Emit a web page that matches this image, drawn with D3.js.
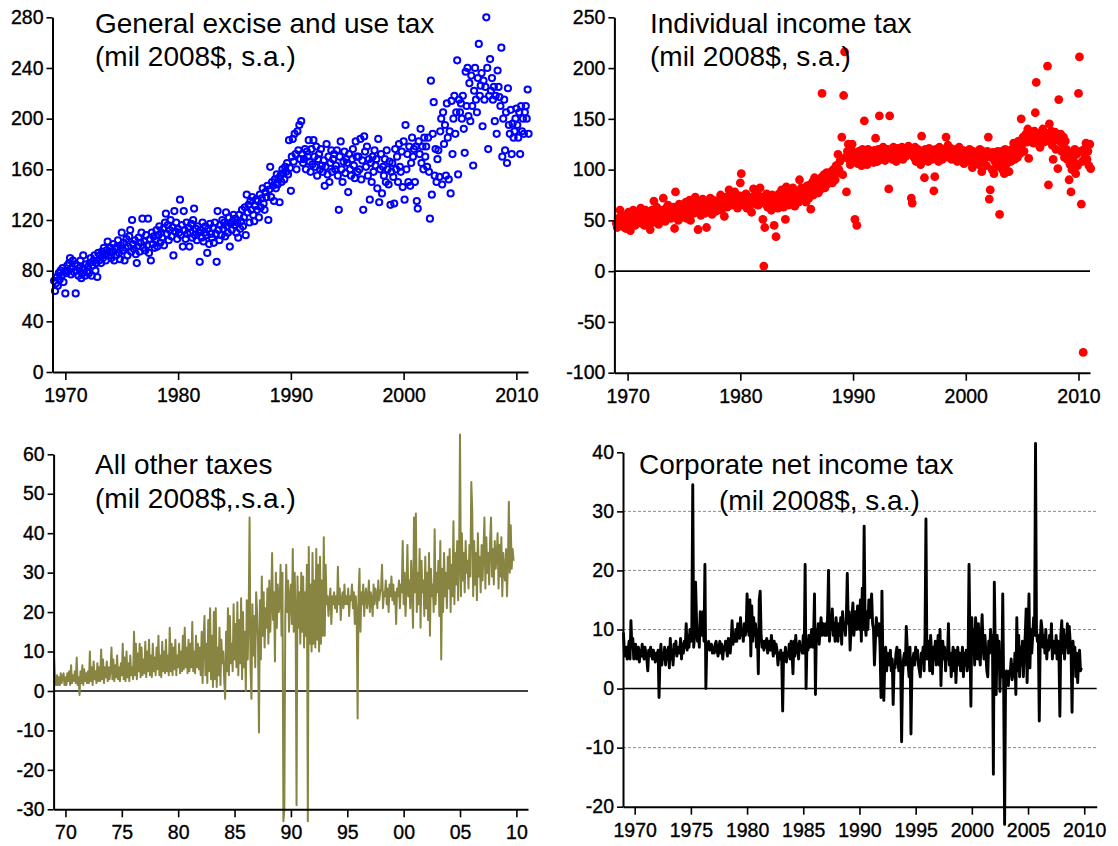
<!DOCTYPE html>
<html>
<head>
<meta charset="utf-8">
<script src="https://cdn.jsdelivr.net/npm/d3@7"></script>
<style>
  html, body { margin: 0; padding: 0; background: #fff; }
  svg { display: block; font-family: "Liberation Sans", Arial, Helvetica, sans-serif; }
</style>
</head>
<body>
<svg id="chart" width="1118" height="846"></svg>
<script>
// Monthly series, first observation January 1969.
const startYear = 1969;

// General excise and use tax (mil 2008$, s.a.), one row per year
const excise = [
  72, 64, 70, 75, 68, 78, 73, 80, 76, 82, 71, 79,
  62, 78, 84, 80, 86, 90, 77, 82, 88, 79, 85, 62,
  80, 84, 76, 82, 88, 74, 78, 92, 81, 76, 85, 79,
  83, 78, 86, 90, 76, 84, 88, 92, 80, 86, 75, 94,
  88, 92, 86, 95, 90, 98, 93, 88, 96, 103, 92, 95,
  98, 90, 95, 101, 88, 97, 92, 99, 104, 94, 89, 100,
  110, 96, 102, 88, 98, 105, 92, 99, 107, 112, 95, 120,
  101, 97, 104, 93, 86, 99, 106, 95, 102, 110, 121, 98,
  103, 96, 108, 100, 121, 94, 105, 88, 110, 101, 107, 98,
  104, 112, 99, 108, 115, 102, 110, 106, 113, 100, 118, 125,
  109, 116, 104, 112, 120, 107, 114, 92, 127, 111, 118, 105,
  113, 110, 136, 108, 116, 99, 127, 112, 105, 118, 109, 114,
  99, 110, 117, 106, 120, 129, 108, 113, 104, 115, 110, 87,
  112, 106, 118, 103, 110, 115, 108, 94, 113, 101, 117, 109,
  106, 114, 102, 118, 109, 87, 127, 112, 104, 116, 108, 120,
  113, 118, 107, 126, 115, 110, 122, 99, 117, 112, 119, 124,
  116, 121, 110, 118, 106, 124, 113, 119, 128, 115, 122, 130,
  108, 140, 126, 132, 118, 135, 128, 138, 124, 119, 131, 136,
  128, 135, 122, 140, 130, 137, 145, 133, 128, 142, 138, 147,
  120, 144, 162, 138, 150, 147, 135, 152, 145, 156, 148, 153,
  134, 155, 150, 160, 157, 152, 162, 158, 165, 156, 183, 161,
  143, 170, 184, 166, 188, 172, 160, 190, 175, 195, 168, 198,
  172, 165, 168, 176, 160, 174, 170, 183, 166, 158, 176, 164,
  183, 170, 162, 178, 155, 168, 172, 160, 176, 163, 158, 167,
  147, 162, 180, 156, 170, 150, 165, 175, 158, 168, 172, 160,
  163, 175, 155, 128, 170, 182, 160, 150, 166, 174, 157, 168,
  165, 142, 172, 160, 155, 168, 176, 163, 153, 182, 170, 158,
  170, 160, 184, 152, 167, 128, 186, 174, 162, 178, 155, 168,
  136, 165, 150, 170, 158, 175, 163, 168, 145, 184, 134, 160,
  172, 141, 162, 155, 168, 150, 175, 160, 148, 166, 132, 158,
  165, 154, 133, 176, 160, 170, 150, 180, 162, 158, 174, 146,
  182, 136, 195, 160, 172, 150, 178, 147, 165, 185, 170, 176,
  150, 178, 135, 129, 182, 172, 192, 165, 178, 160, 185, 170,
  178, 162, 185, 158, 121, 230, 140, 188, 213, 155, 176, 150,
  168, 175, 154, 190, 200, 148, 205, 180, 195, 155, 212, 185,
  152, 190, 141, 214, 172, 200, 218, 188, 205, 246, 156, 215,
  205, 212, 200, 218, 192, 173, 237, 210, 240, 202, 228, 198,
  234, 210, 163, 222, 240, 215, 205, 232, 259, 218, 226, 236,
  194, 230, 215, 225, 280, 240, 176, 218, 247, 222, 232, 215,
  225, 198, 218, 188, 238, 225, 217, 210, 256, 170, 200, 215,
  175, 205, 165, 224, 195, 188, 207, 172, 196, 185, 190, 200,
  208, 195, 185, 205, 172, 210, 190, 200, 188, 205, 210, 200,
  223, 188
];

// Individual income tax (mil 2008$, s.a.)
const individual = [
  47, 43, 52, 48, 60, 45, 50, 44, 55, 49, 42, 53,
  46, 58, 50, 40, 54, 47, 60, 52, 45, 49, 56, 48,
  55, 50, 62, 47, 58, 52, 45, 60, 53, 49, 57, 51,
  41, 55, 60, 48, 69, 52, 57, 63, 50, 46, 58, 54,
  60, 53, 72, 56, 49, 62, 58, 65, 55, 61, 52, 59,
  57, 63, 42, 78, 55, 60, 50, 66, 58, 62, 53, 65,
  60, 55, 68, 52, 63, 58, 70, 50, 61, 66, 57, 64,
  73, 62, 58, 41, 65, 69, 55, 60, 71, 63, 57, 66,
  43, 62, 68, 58, 72, 64, 56, 70, 61, 66, 59, 68,
  65, 70, 62, 75, 60, 68, 72, 54, 66, 73, 63, 70,
  80, 68, 72, 65, 75, 70, 78, 66, 73, 62, 70, 74,
  87, 96, 68, 74, 65, 71, 76, 62, 70, 73, 66, 72,
  58, 69, 81, 74, 66, 72, 78, 65, 70, 82, 67, 73,
  51, 5, 43, 70, 76, 63, 69, 72, 65, 60, 75, 68,
  45, 73, 34, 68, 62, 76, 70, 65, 80, 72, 63, 78,
  51, 83, 70, 65, 78, 72, 68, 75, 82, 70, 64, 76,
  72, 78, 68, 90, 75, 82, 70, 77, 73, 80, 68, 84,
  78, 72, 85, 61, 80, 88, 75, 92, 79, 84, 90, 77,
  85, 80, 92, 175, 88, 95, 82, 90, 97, 86, 93, 88,
  92, 98, 87, 100, 95, 90, 104, 97, 115, 100, 108, 110,
  132, 95, 173, 216, 112, 78, 118, 125, 110, 105, 120, 125,
  115, 108, 51, 112, 45, 106, 118, 110, 114, 104, 120, 112,
  148, 110, 115, 105, 120, 113, 108, 118, 112, 116, 107, 119,
  131, 115, 108, 120, 153, 112, 117, 110, 122, 114, 109, 118,
  116, 120, 81, 153, 112, 118, 110, 122, 115, 119, 108, 121,
  118, 112, 120, 115, 122, 110, 117, 121, 113, 119, 116, 123,
  120, 115, 72, 67, 118, 112, 122, 108, 116, 120, 110, 117,
  105, 133, 118, 112, 92, 120, 110, 115, 108, 121, 113, 117,
  110, 115, 79, 93, 120, 112, 118, 108, 122, 114, 117, 110,
  116, 120, 113, 132, 118, 124, 112, 117, 121, 110, 119, 114,
  118, 112, 120, 108, 116, 122, 110, 117, 113, 119, 106, 115,
  112, 118, 108, 116, 120, 110, 115, 102, 118, 113, 107, 116,
  110, 117, 105, 120, 113, 98, 118, 108, 115, 112, 104, 118,
  132, 71, 80, 112, 100, 117, 96, 108, 113, 103, 118, 110,
  56, 108, 118, 100, 112, 96, 120, 105, 115, 110, 98, 113,
  108, 120, 115, 126, 110, 118, 124, 112, 128, 120, 116, 150,
  125, 132, 118, 130, 135, 127, 140, 111, 133, 128, 137, 130,
  126, 138, 156, 186, 130, 135, 128, 122, 136, 132, 140, 127,
  132, 128, 136, 202, 85, 145, 130, 138, 124, 110, 132, 137,
  120, 130, 101, 169, 128, 135, 118, 125, 132, 112, 128, 120,
  110, 118, 90, 105, 78, 100, 113, 108, 120, 96, 115, 104,
  175, 211, 118, 66, 108, -80, 120, 112, 126, 110, 118, 104,
  125, 101
];

// All other taxes (mil 2008$, s.a.)
const otherTaxes = [
  8, 2, 1.5, 4, 1.5, 3.5, 1.5, 4.5, 2, 3.5, 4.5, 1.5,
  3.5, 1.5, 4.5, 2.5, 5, 1.5, 6.5, 2, 4, 2.5, 5, 2,
  8.5, 1.5, 3.5, -1, 5, 2, 6.5, 1.5, 5.5, 2.5, 4.5, 2,
  5, 2, 10, 2.5, 6, 1.5, 7.5, 3, 5, 2, 7, 2.5,
  6, 2.5, 10.5, 3, 8, 2, 6, 3.5, 7.5, 2.5, 6, 3,
  5.5, 11, 3, 8, 2.5, 6.5, 3.5, 9, 3, 6, 2.5, 7,
  4, 12, 3, 8.5, 2.5, 10, 3.5, 7, 2.5, 9, 4, 6,
  3, 15, 4, 12, 3, 9.5, 5, 12, 3.5, 11, 4, 8,
  4.5, 12.5, 3.5, 10, 5, 13, 4, 9, 3.5, 12, 5, 8.5,
  4, 11, 5.5, 14, 4, 9, 3.5, 12.5, 5, 10, 4.5, 13,
  5, 9, 4, 16, 5, 12, 4, 11, 5.5, 13, 4, 9,
  6, 12, 4.5, 10, 5, 14, 5.5, 16, 6, 11, 4.5, 13,
  5, 12, 6, 17.5, 5, 10, 4.5, 14, 6, 12, 5.5, 11,
  4, 15, 2, 13, 19, 4, 12, 2, 18, 5, 21, 3,
  14, 1, 20, 3, 21, 1, 11, 4, 16, 1.5, 13, 7,
  10, 3, -2, 15, 5, 21, 4, 19, 7, 12, 5, 22,
  8, 17, 6, 22.5, 4, 18, 7, 23.5, 3, 20, 6, 15,
  0, 23, 8, 18, 44, 6, -2, 22, 9, 19, 6, 25,
  20, 12, -10.5, 23, 8, 29, 14, 25, 11, 21, 16, 26,
  12, 28, 15, 22, 35, 18, 25, 7.5, 30, 16, 27, 20,
  22, 32, 14, 30, -33, -30, 18, 32, 20, 28, 15, 24,
  27, 17, 36, 15, 30, 20, -29, 29, 16, 25, 12, 30,
  15, 29, 11, 25, 14, 32, -33, 36.5, 12, 27, 10, 35,
  12, 28, 11, 36, 13, 32, 10, 34, 12, 28, 14, 39,
  14, 32, 22, 24, 19, 23, 26, 17, 24, 22, 25, 21,
  24, 20, 31.5, 22, 26, 18, 23, 25, 21, 27, 22, 24,
  22, 26, 19, 24, 23, 27, 21, 25, 17, 24, 20, -7,
  24, 31, 15, 25, 22, 27, 19, 24, 26, 21, 23, 28,
  20, 25, 23, 19, 27, 22, 26, 24, 21, 28, 23, 25,
  26, 32, 21, 25, 24, 28, 22, 26, 20, 27, 24, 29,
  23, 27, 22, 25, 17, 26, 24, 28, 21, 27, 25, 38,
  22, 30, 19, 26, 37, 24, 28, 21, 33, 25, 16, 44,
  25, 45, 20, 30, 22, 36, 16, 33, 25, 28, 19, 34,
  21, 30, 18, 35, 14, 31, 24, 27, 20, 41, 22, 30,
  25, 33, 19, 38, 8, 31, 20, 35, 24, 30, 21, 34,
  26, 36, 20, 32, 24, 43, 22, 35, 27, 38, 23, 33,
  65, 24, 40, 28, 35, 25, 38, 30, 33, 26, 37, 29,
  53, 46, 24, 38, 27, 35, 23, 40, 29, 34, 25, 37,
  28, 36, 44, 26, 39, 30, 35, 27, 38, 44, 29, 36,
  27, 38, 31, 34, 40, 26, 37, 29, 39, 24, 35, 30,
  28, 36, 24, 33, 48, 30, 42, 31, 36, 33
];

// Corporate net income tax (mil 2008$, s.a.)
const corporate = [
  9.5, 6, 5.5, 7, 5, 6.5, 8, 5, 11.5, 7, 8.5, 5,
  6.5, 7.5, 5, 6, 7, 4.5, 6.5, 5.5, 7.5, 6, 5, 7,
  6, 5, 3, 6.5, 5.5, 7, 6, 5, 6.5, 5.5, 4.5, 6,
  5.5, 6.5, -1.5, 5, 7.5, 4, 6, 5, 7, 4, 6.5, 5,
  7, 3.5, 8.5, 5, 6.5, 4, 7.5, 6, 8, 5.5, 6.5, 7,
  6, 8.5, 5, 7.5, 6, 8, 7, 11, 6.5, 9, 7, 10,
  8, 10, 34.5, 7, 9, 18, 12, 8, 10, 7, 13, 11,
  9, 13, 8, 21, 0, 7.5, 7, 8, 6.5, 7, 7.5, 6,
  7, 6, 7.5, 8, 6.5, 5.5, 7, 8, 6, 7.5, 5, 7,
  6.5, 8, 7, 5.5, 8.5, 7, 6, 8, 11.5, 7.5, 9, 8,
  10, 8, 11, 9, 8.5, 12, 9, 10, 8, 11, 9, 10,
  16, 12, 9, 15, 5.5, 14, 8, 12, 9, 11, 7, 10,
  2.5, 15, 16.5, 9, 7, 8, 6.5, 8, 7, 8.5, 6, 7,
  8, 6.5, 9, 7, 5.5, 8, 6, 7.5, 6.5, 4, 6, 5,
  6.5, 5, -3.8, 6, 5, 7, 4.5, 6, 5.5, 7.5, 5, 8,
  6, 2.5, 8, 5.5, 9, 6, 7.5, 5, 8, 6.5, 7, 6,
  9, 6, 21, 0, 8, 6.5, 9, 7, 8.5, 10, 7, 8.5,
  16, -1, 10, 8, 11, 7.5, 10, 12, 9, 11, 10, 9,
  11, 9, 12, 20, 8, 12, 10, 13.5, 9, 11, 8, 12,
  10, 8, 11, 9, 12, 7.5, 13, 10, 11, 9, 12, 19.5,
  11, 13, 6.5, 10, 12, 14.5, 9, 11, 13, 10, 14, 12,
  10, 15, 8, 17, 10, 27.5, 11, 9, 13, 10, 15, 12,
  14, 16, 11, 10, 4, 8, 12, 10, 9, 11, 7, -1.5,
  16.5, 5, -2, 4, 7, 3, 6, 5, 4, 6.5, 3, 5,
  -2.7, 4, 3.5, 6, 7, 5, 3, 6.5, 4, -9, 2, 5,
  6, 4, 10.5, 7, 4, 2, 7, -7.7, 3, 5, 6, 4,
  7, 5, 6.5, 4, 3, 2, 6, 5, 7, 3, 9, 28.7,
  5, 6, 8, 3, 9, 6, 2.5, 7, 5, 8, 4, 6,
  9, 4, 10, 0.5, 6, 8, 5, 7, 3, 6.5, 5, 11,
  4, 6, 2, 5, 7, 3, 6.5, 1, 5, 7, 4, 6,
  3, 5, 7, 2, 6, 4, 6.5, 3, 5, 21, 8, -3,
  12, 6, 10, 4, 12, 8, 5, 11, 6, 4, 9, 12.5,
  7, 5, 9, 6, 3, 2, 8, 6, 10, 7, 9, -14.5,
  18, 7, -1, 9, 4, 8, -0.5, 6, 2, 16, 0, -23,
  1, 3, 2, 0.5, 3, 2.5, 5, 1.5, 4, 2, 6, -1,
  12, 3, 9, 2, 7, 4, 8, 2, 6, 9, 13.5, 1,
  8, 16, 3.5, 10, 6, 9, 12, 9, 41.5, 10, 8, 9,
  -5.5, 8, 11.5, 10, 7, 9, 6, 10, 5, 8, 6.5, 9,
  7, 11, 5, 8, 7, 6, 9, 5, 8, 6, -4.7, 9,
  11.5, 6, 10, 5, 9, 7, 11, 6, 10.5, 8, 6, -4,
  8, 5, 7, 2, 6, 1, 5, 6.5, 3, 3.5
];

// Axis ticks
const yearTicks10 = [1970, 1980, 1990, 2000, 2010];
const yearTicks5 = [1970, 1975, 1980, 1985, 1990, 1995, 2000, 2005, 2010];
const exciseTicks = [0, 40, 80, 120, 160, 200, 240, 280];
const individualTicks = [-100, -50, 0, 50, 100, 150, 200, 250];
const otherTicks = [-30, -20, -10, 0, 10, 20, 30, 40, 50, 60];
const corporateTicks = [-20, -10, 0, 10, 20, 30, 40];
const corporateGrid = [-10, 10, 20, 30];

const svg = d3.select("#chart");
const toPoints = arr => arr.map((v, i) => ({ t: startYear + i / 12, v }));

function drawPanel(cfg) {
  const x = d3.scaleLinear().domain(cfg.xDomain).range(cfg.xRange);
  const y = d3.scaleLinear().domain(cfg.yDomain).range(cfg.yRange);
  const g = svg.append("g");
  const [x0, x1] = cfg.xRange;

  // dashed reference lines
  if (cfg.grid) {
    g.selectAll("line.grid").data(cfg.grid).join("line")
      .attr("class", "grid")
      .attr("x1", x0).attr("x2", x1)
      .attr("y1", d => y(d)).attr("y2", d => y(d))
      .attr("stroke", "#8c8c8c").attr("stroke-width", 1)
      .attr("stroke-dasharray", "3,2");
  }
  // zero line
  if (cfg.zeroLine) {
    g.append("line")
      .attr("x1", x0).attr("x2", x1)
      .attr("y1", y(0)).attr("y2", y(0))
      .attr("stroke", "#000").attr("stroke-width", 1.6);
  }

  const pts = toPoints(cfg.data);
  if (cfg.kind === "ring") {
    g.append("g").selectAll("circle").data(pts).join("circle")
      .attr("cx", d => x(d.t)).attr("cy", d => y(d.v)).attr("r", 3.1)
      .attr("fill", "none").attr("stroke", cfg.color).attr("stroke-width", 2);
  } else if (cfg.kind === "dot") {
    g.append("g").selectAll("circle").data(pts).join("circle")
      .attr("cx", d => x(d.t)).attr("cy", d => y(d.v)).attr("r", 4.4)
      .attr("fill", cfg.color);
  } else {
    g.append("path").datum(pts)
      .attr("d", d3.line().x(d => x(d.t)).y(d => y(d.v)))
      .attr("fill", "none").attr("stroke", cfg.color)
      .attr("stroke-width", cfg.lineWidth).attr("stroke-linejoin", "round");
  }

  // axes
  const yAxis = d3.axisLeft(y).tickValues(cfg.yTicks).tickSize(6).tickSizeOuter(0)
    .tickPadding(3).tickFormat(d => String(d));
  const xAxis = d3.axisBottom(x).tickValues(cfg.xTicks).tickSize(8).tickSizeOuter(0)
    .tickPadding(8).tickFormat(cfg.xFormat);

  const ya = g.append("g").attr("transform", `translate(${x0},0)`).call(yAxis);
  const xa = g.append("g").attr("transform", `translate(0,${cfg.yRange[0]})`).call(xAxis);
  [ya, xa].forEach(a => {
    a.attr("font-family", null).attr("font-size", null);
    a.select(".domain").attr("stroke", "#000").attr("stroke-width", 2);
    a.selectAll(".tick line").attr("stroke", "#000").attr("stroke-width", 1.6);
    a.selectAll(".tick text").attr("fill", "#000")
      .attr("stroke", "#000").attr("stroke-width", 0.35)
      .style("font-size", "19.5px");
  });

  // title
  const title = g.append("g").style("font-size", "28px").attr("fill", "#000");
  cfg.title.forEach(tl => {
    title.append("text").attr("x", tl.x).attr("y", tl.y).text(tl.text);
  });
}

drawPanel({
  data: excise, kind: "ring", color: "#0000ff",
  xDomain: [1968.86, 2011.03], xRange: [52.5, 528],
  yDomain: [0, 280], yRange: [372, 17.3],
  xTicks: yearTicks10, yTicks: exciseTicks, xFormat: d => String(d),
  title: [
    { text: "General excise and use tax", x: 95, y: 33 },
    { text: "(mil 2008$, s.a.)", x: 95, y: 66 }
  ]
});

drawPanel({
  data: individual, kind: "dot", color: "#ff0000", zeroLine: true,
  xDomain: [1968.83, 2011.02], xRange: [614.4, 1090],
  yDomain: [-100, 250], yRange: [372.7, 17.3],
  xTicks: yearTicks10, yTicks: individualTicks, xFormat: d => String(d),
  title: [
    { text: "Individual income tax", x: 650, y: 33 },
    { text: "(mil 2008$, s.a.)", x: 650, y: 66 }
  ]
});

drawPanel({
  data: otherTaxes, kind: "line", color: "#878541", lineWidth: 2, zeroLine: true,
  xDomain: [1968.95, 2011.03], xRange: [53.6, 528],
  yDomain: [-30, 60], yRange: [809.3, 454.3],
  xTicks: yearTicks5, yTicks: otherTicks, xFormat: d => String(d % 100).padStart(2, "0"),
  title: [
    { text: "All other taxes", x: 95, y: 474 },
    { text: "(mil 2008$,.s.a.)", x: 95, y: 508 }
  ]
});

drawPanel({
  data: corporate, kind: "line", color: "#000", lineWidth: 2.9, zeroLine: true,
  grid: corporateGrid,
  xDomain: [1968.96, 2011.11], xRange: [623, 1096.7],
  yDomain: [-20, 40], yRange: [806.7, 452.3],
  xTicks: yearTicks5, yTicks: corporateTicks, xFormat: d => String(d),
  title: [
    { text: "Corporate net income tax", x: 639, y: 474 },
    { text: "(mil 2008$, s.a.)", x: 719, y: 510 }
  ]
});
</script>
</body>
</html>
